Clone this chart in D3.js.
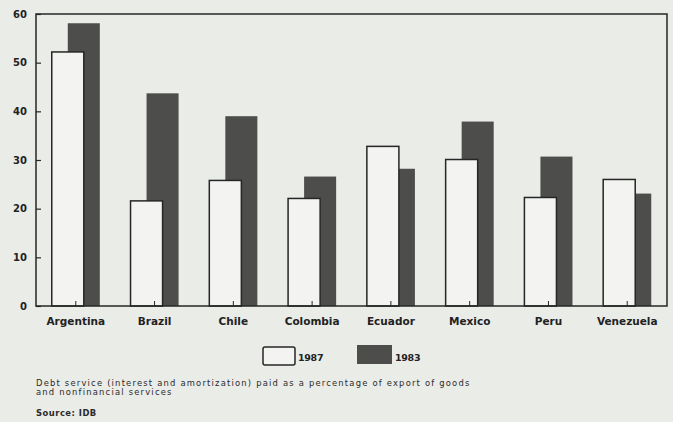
<!DOCTYPE html>
<html>
<head>
<meta charset="utf-8">
<script src="https://cdn.jsdelivr.net/npm/d3@7"></script>
<style>
  html, body { margin: 0; padding: 0; background: #eaece8; overflow: hidden; }
  svg { display: block; font-family: "DejaVu Sans", "Liberation Sans", sans-serif; }
  .axis { font-family: "DejaVu Sans", "Liberation Sans", sans-serif; }
  .axis text { fill: #222; font-size: 10px; font-weight: bold; }
</style>
</head>
<body>
<div id="chart"></div>
<script>
const countries = ["Argentina", "Brazil", "Chile", "Colombia", "Ecuador", "Mexico", "Peru", "Venezuela"];
const values1987 = [52.2, 21.6, 25.8, 22.1, 32.8, 30.1, 22.3, 26.0];
const values1983 = [58.1, 43.7, 39.0, 26.6, 28.2, 37.9, 30.7, 23.1];
const yTicks = [0, 10, 20, 30, 40, 50, 60];
const seriesNames = ["1987", "1983"];
const noteLines = [
  "Debt service (interest and amortization) paid as a percentage of export of goods",
  "and nonfinancial services"
];
const sourceText = "Source: IDB";

const width = 673, height = 422;
const margin = { top: 14, right: 6, bottom: 116, left: 36 };
const innerWidth = width - margin.left - margin.right;
const innerHeight = height - margin.top - margin.bottom;

const svg = d3.select("#chart").append("svg")
  .attr("width", width)
  .attr("height", height);

const g = svg.append("g")
  .attr("transform", `translate(${margin.left},${margin.top})`);

const x = d3.scaleBand()
  .domain(countries)
  .range([0, innerWidth])
  .paddingInner(0.39)
  .paddingOuter(0.2);

const y = d3.scaleLinear()
  .domain([0, 60])
  .range([innerHeight, 0]);

const barW = x.bandwidth() * 2 / 3;
const shift = x.bandwidth() / 3;

const data = countries.map((c, i) => ({ country: c, v87: values1987[i], v83: values1983[i] }));

// 1983 bars sit behind, shifted right
g.selectAll("rect.b83")
  .data(data)
  .join("rect")
  .attr("class", "b83")
  .attr("x", d => x(d.country) + shift)
  .attr("y", d => y(d.v83))
  .attr("width", barW)
  .attr("height", d => innerHeight - y(d.v83))
  .attr("fill", "#4d4e4c");

g.selectAll("rect.b87")
  .data(data)
  .join("rect")
  .attr("class", "b87")
  .attr("x", d => x(d.country))
  .attr("y", d => y(d.v87))
  .attr("width", barW)
  .attr("height", d => innerHeight - y(d.v87))
  .attr("fill", "#f3f4f1")
  .attr("stroke", "#262626")
  .attr("stroke-width", 1.5);

// frame
g.append("rect")
  .attr("width", innerWidth)
  .attr("height", innerHeight)
  .attr("fill", "none")
  .attr("stroke", "#262626")
  .attr("stroke-width", 1.5);

const yAxis = g.append("g")
  .attr("class", "axis")
  .call(d3.axisLeft(y).tickValues(yTicks).tickSize(-5).tickPadding(9).tickFormat(d3.format("d")));
yAxis.select(".domain").remove();
yAxis.selectAll("line").attr("stroke", "#262626").attr("stroke-width", 1.2);

const xAxis = g.append("g")
  .attr("class", "axis")
  .attr("transform", `translate(0,${innerHeight})`)
  .call(d3.axisBottom(x).tickSize(-5).tickPadding(12));
xAxis.select(".domain").remove();
xAxis.selectAll("line").attr("stroke", "#262626").attr("stroke-width", 1);
xAxis.selectAll("text").style("font-size", "10.5px");

// legend
const legend = svg.append("g").attr("transform", "translate(263,347)");
seriesNames.forEach((name, i) => {
  const item = legend.append("g").attr("transform", `translate(${i * 94},0)`);
  item.append("rect")
    .attr("width", i === 0 ? 32 : 35)
    .attr("height", i === 0 ? 18 : 19)
    .attr("y", i === 0 ? 0 : -2)
    .attr("rx", i === 0 ? 2 : 0)
    .attr("fill", i === 0 ? "#f3f4f1" : "#4d4e4c")
    .attr("stroke", i === 0 ? "#262626" : "none")
    .attr("stroke-width", 1.5);
  item.append("text")
    .attr("x", i === 0 ? 35 : 38)
    .attr("y", 14)
    .attr("font-size", 9.5)
    .attr("font-weight", "bold")
    .attr("letter-spacing", -0.3)
    .attr("fill", "#222")
    .text(name);
});

// notes
svg.selectAll("text.note")
  .data(noteLines)
  .join("text")
  .attr("class", "note")
  .attr("x", 36)
  .attr("y", (d, i) => 386 + i * 9)
  .attr("font-size", 8.4)
  .attr("letter-spacing", 1.2)
  .attr("fill", "#2a2a2a")
  .text(d => d);

svg.append("text")
  .attr("x", 36)
  .attr("y", 416)
  .attr("font-size", 8.4)
  .attr("font-weight", "bold")
  .attr("letter-spacing", 0.5)
  .attr("fill", "#2a2a2a")
  .text(sourceText);
</script>
</body>
</html>
